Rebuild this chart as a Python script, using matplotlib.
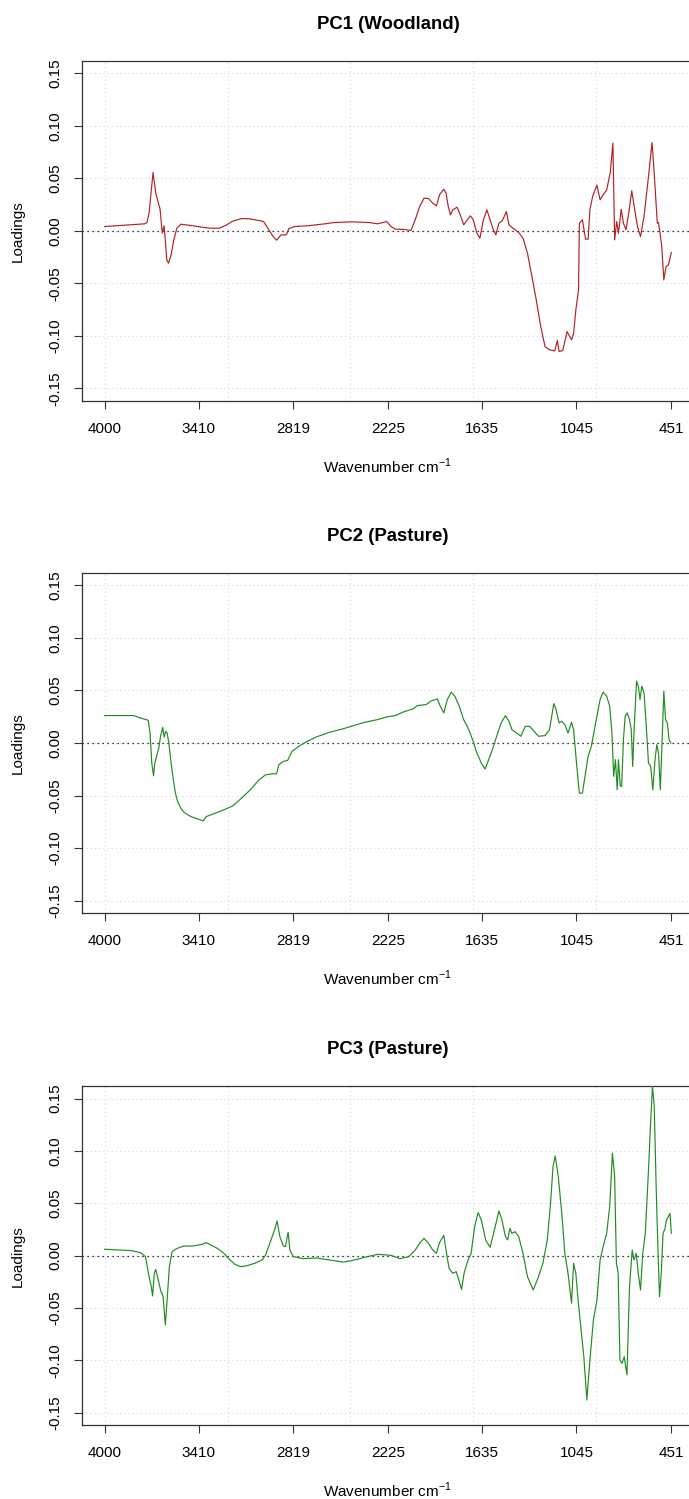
import numpy as np
import matplotlib
matplotlib.use("Agg")
import matplotlib.pyplot as plt

plt.rcParams['font.family'] = ['Liberation Sans', 'DejaVu Sans']
plt.rcParams['mathtext.fontset'] = 'custom'
plt.rcParams['mathtext.rm'] = 'Liberation Sans'

# axis labels used on the x axis (wavenumber, cm-1)
tick_wn = [4000, 3410, 2819, 2225, 1635, 1045, 451]
y_ticks = [-0.15, -0.10, -0.05, 0.00, 0.05, 0.10, 0.15]
titles = ["PC1 (Woodland)", "PC2 (Pasture)", "PC3 (Pasture)"]
colors = ["#B22222", "#228B22", "#228B22"]

# PC1 loadings
pc1_wn = [4000, 3749, 3735, 3722, 3697, 3680, 3653, 3639, 3628, 3622,
          3611, 3600, 3584, 3567, 3548, 3523, 3474, 3391, 3336, 3281,
          3240, 3198, 3143, 3088, 3005, 2972, 2945, 2923, 2895, 2862,
          2846, 2812, 2730, 2620, 2564, 2454, 2344, 2289, 2234, 2206,
          2179, 2124, 2082, 2055, 2027, 2000, 1972, 1945, 1922, 1903,
          1876, 1862, 1848, 1834, 1820, 1793, 1773, 1751, 1729, 1710,
          1691, 1669, 1650, 1628, 1606, 1586, 1567, 1550, 1531, 1509,
          1484, 1468, 1435, 1407, 1380, 1352, 1324, 1297, 1269, 1242,
          1214, 1181, 1165, 1154, 1131, 1104, 1076, 1063, 1049, 1032,
          1027, 1008, 988, 972, 961, 944, 917, 897, 878, 856,
          834, 817, 806, 793, 782, 765, 751, 735, 718, 699,
          677, 663, 644, 622, 594, 572, 558, 539, 531, 511,
          498, 484, 469, 451]
pc1_val = [0.0041, 0.0067, 0.0079, 0.0168, 0.0556, 0.0359, 0.0206, -0.0022, 0.0048, -0.0054,
           -0.0276, -0.0308, -0.0229, -0.0086, 0.0025, 0.0063, 0.0054, 0.0035, 0.0025, 0.0025,
           0.0054, 0.0092, 0.0117, 0.0114, 0.0089, 0.0010, -0.0054, -0.0089, -0.0038, -0.0038,
           0.0022, 0.0041, 0.0048, 0.0067, 0.0079, 0.0086, 0.0079, 0.0067, 0.0089, 0.0041,
           0.0016, 0.0013, 0.0003, 0.0105, 0.0232, 0.0311, 0.0308, 0.0263, 0.0238, 0.0343,
           0.0397, 0.0359, 0.0232, 0.0152, 0.0200, 0.0225, 0.0152, 0.0057, 0.0105, 0.0143,
           0.0105, -0.0022, -0.0070, 0.0105, 0.0200, 0.0105, 0.0016, -0.0038, 0.0073, 0.0098,
           0.0184, 0.0057, 0.0016, -0.0016, -0.0070, -0.0213, -0.0435, -0.0657, -0.0911, -0.1102,
           -0.1133, -0.1143, -0.1044, -0.1149, -0.1140, -0.0959, -0.1038, -0.0975, -0.0752, -0.0562,
           0.0073, 0.0105, -0.0079, -0.0079, 0.0200, 0.0327, 0.0435, 0.0295, 0.0343, 0.0390,
           0.0549, 0.0835, -0.0086, 0.0089, -0.0022, 0.0206, 0.0073, 0.0010, 0.0168, 0.0381,
           0.0168, 0.0041, -0.0054, 0.0137, 0.0517, 0.0841, 0.0549, 0.0073, 0.0079, -0.0149,
           -0.0467, -0.0340, -0.0324, -0.0206]

# PC2 loadings
pc2_wn = [4000, 3818, 3777, 3727, 3716, 3705, 3694, 3686, 3672, 3661,
          3650, 3636, 3628, 3617, 3609, 3598, 3584, 3570, 3557, 3543,
          3523, 3501, 3460, 3419, 3383, 3364, 3308, 3253, 3198, 3143,
          3088, 3033, 2992, 2950, 2923, 2909, 2881, 2854, 2826, 2785,
          2730, 2675, 2592, 2509, 2454, 2372, 2289, 2234, 2179, 2123,
          2068, 2041, 1986, 1958, 1917, 1898, 1876, 1854, 1829, 1807,
          1779, 1752, 1724, 1696, 1669, 1641, 1617, 1595, 1572, 1545,
          1517, 1490, 1468, 1449, 1421, 1393, 1366, 1338, 1311, 1283,
          1242, 1214, 1187, 1173, 1154, 1137, 1118, 1098, 1076, 1063,
          1054, 1043, 1027, 1008, 988, 972, 952, 925, 897, 878,
          856, 837, 823, 812, 801, 790, 782, 771, 762, 751,
          740, 727, 713, 702, 693, 685, 669, 658, 647, 636,
          622, 608, 594, 580, 567, 553, 542, 531, 520, 509,
          498, 487, 476, 465, 454]
pc2_val = [0.0261, 0.0261, 0.0239, 0.0216, 0.0095, -0.0191, -0.0312, -0.0191, -0.0111, -0.0048,
           0.0064, 0.0150, 0.0057, 0.0111, 0.0095, 0.0000, -0.0191, -0.0350, -0.0477, -0.0557,
           -0.0621, -0.0662, -0.0700, -0.0722, -0.0741, -0.0700, -0.0668, -0.0636, -0.0598, -0.0525,
           -0.0445, -0.0350, -0.0302, -0.0293, -0.0293, -0.0207, -0.0175, -0.0165, -0.0080, -0.0032,
           0.0016, 0.0057, 0.0102, 0.0134, 0.0159, 0.0197, 0.0223, 0.0248, 0.0261, 0.0299,
           0.0324, 0.0356, 0.0366, 0.0398, 0.0420, 0.0350, 0.0286, 0.0414, 0.0484, 0.0445,
           0.0350, 0.0223, 0.0143, 0.0032, -0.0095, -0.0191, -0.0248, -0.0159, -0.0064, 0.0064,
           0.0191, 0.0261, 0.0207, 0.0127, 0.0095, 0.0064, 0.0159, 0.0159, 0.0111, 0.0064,
           0.0070, 0.0127, 0.0375, 0.0318, 0.0191, 0.0207, 0.0175, 0.0095, 0.0197, 0.0127,
           -0.0032, -0.0223, -0.0477, -0.0477, -0.0286, -0.0127, -0.0032, 0.0191, 0.0414, 0.0484,
           0.0445, 0.0350, 0.0095, -0.0318, -0.0159, -0.0445, -0.0159, -0.0407, -0.0414, 0.0032,
           0.0255, 0.0286, 0.0223, 0.0127, -0.0223, 0.0095, 0.0589, 0.0541, 0.0414, 0.0541,
           0.0477, 0.0159, -0.0191, -0.0223, -0.0445, -0.0159, -0.0016, -0.0095, -0.0445, 0.0000,
           0.0493, 0.0223, 0.0191, 0.0032, 0.0000]

# PC3 loadings
pc3_wn = [4000, 3915, 3832, 3777, 3744, 3722, 3708, 3700, 3689, 3680,
          3667, 3650, 3634, 3620, 3606, 3595, 3578, 3556, 3529, 3501,
          3446, 3391, 3364, 3336, 3295, 3253, 3226, 3184, 3149, 3116,
          3060, 3014, 2992, 2964, 2936, 2920, 2903, 2881, 2868, 2851,
          2840, 2818, 2757, 2675, 2592, 2509, 2454, 2372, 2289, 2206,
          2151, 2096, 2055, 2027, 2000, 1972, 1945, 1922, 1903, 1876,
          1859, 1843, 1820, 1798, 1782, 1765, 1749, 1724, 1705, 1683,
          1661, 1641, 1614, 1586, 1559, 1531, 1512, 1490, 1476, 1462,
          1449, 1429, 1407, 1380, 1352, 1316, 1283, 1255, 1228, 1209,
          1192, 1178, 1159, 1137, 1118, 1098, 1076, 1063, 1049, 1035,
          1016, 999, 980, 961, 939, 917, 897, 878, 856, 837,
          820, 806, 795, 784, 773, 760, 746, 729, 713, 696,
          685, 671, 658, 644, 630, 614, 594, 580, 569, 558,
          545, 534, 525, 514, 503, 492, 481, 470, 459, 451]
pc3_val = [0.0061, 0.0054, 0.0048, 0.0029, -0.0010, -0.0201, -0.0296, -0.0385, -0.0169, -0.0131,
           -0.0217, -0.0328, -0.0392, -0.0662, -0.0360, -0.0105, 0.0038, 0.0061, 0.0080, 0.0092,
           0.0092, 0.0108, 0.0124, 0.0102, 0.0070, 0.0022, -0.0025, -0.0083, -0.0105, -0.0099,
           -0.0073, -0.0041, 0.0006, 0.0124, 0.0245, 0.0331, 0.0182, 0.0092, 0.0086, 0.0223,
           0.0054, -0.0010, -0.0029, -0.0022, -0.0041, -0.0061, -0.0048, -0.0016, 0.0013, 0.0003,
           -0.0029, -0.0010, 0.0054, 0.0118, 0.0166, 0.0118, 0.0054, 0.0022, 0.0124, 0.0194,
           0.0022, -0.0121, -0.0169, -0.0153, -0.0232, -0.0322, -0.0169, -0.0041, 0.0022, 0.0277,
           0.0411, 0.0341, 0.0150, 0.0080, 0.0245, 0.0427, 0.0341, 0.0182, 0.0150, 0.0261,
           0.0213, 0.0229, 0.0182, 0.0022, -0.0201, -0.0328, -0.0201, -0.0073, 0.0150, 0.0468,
           0.0850, 0.0952, 0.0755, 0.0404, 0.0022, -0.0169, -0.0455, -0.0073, -0.0169, -0.0424,
           -0.0710, -0.0965, -0.1379, -0.0997, -0.0615, -0.0424, -0.0041, 0.0086, 0.0213, 0.0468,
           0.0978, 0.0755, -0.0073, -0.0169, -0.0997, -0.1029, -0.0965, -0.1140, -0.0296, 0.0054,
           -0.0041, 0.0022, -0.0169, -0.0328, 0.0022, 0.0213, 0.0818, 0.1296, 0.1615, 0.1424,
           0.0596, 0.0022, -0.0392, -0.0169, 0.0213, 0.0252, 0.0341, 0.0373, 0.0404, 0.0213]

wavenumbers = [pc1_wn, pc2_wn, pc3_wn]
loadings = [pc1_val, pc2_val, pc3_val]

W, H = 689, 1499
fig = plt.figure(figsize=(W / 100, H / 100), dpi=100)

# panel boxes in pixels: (top, bottom); box runs past the right edge
boxes = [(60.7, 401.0), (572.7, 913.3), (1086.0, 1425.3)]
left_px, right_px = 82, 694
# grid lines every 500 points of the spectrum, as in the original
grid_x = [4000 - k * 769.6 for k in range(5)]

dotted = (0, (1, 3))

for i in range(3):
    top, bot = boxes[i]
    ax = fig.add_axes([left_px / W, 1 - bot / H, (right_px - left_px) / W, (bot - top) / H])
    ax.set_xlim(4142, 309)
    ax.set_ylim(-0.162, 0.162)

    for gx in grid_x:
        ax.axvline(gx, color='lightgray', lw=0.75, ls=dotted, zorder=1)
    for gy in y_ticks:
        ax.axhline(gy, color='lightgray', lw=0.75, ls=dotted, zorder=1)
    ax.axhline(0, color='black', lw=0.9, ls=dotted, zorder=2)

    ax.plot(wavenumbers[i], loadings[i], color=colors[i], lw=0.85, zorder=3)

    ax.set_xticks(tick_wn)
    ax.set_xticklabels([str(t) for t in tick_wn])
    ax.set_yticks(y_ticks)
    ax.set_yticklabels(["%.2f" % t for t in y_ticks], rotation=90, va='center')
    ax.tick_params(axis='both', labelsize=11, length=6, width=0.8, color='#333333')
    ax.tick_params(axis='x', pad=9)
    ax.tick_params(axis='y', pad=8)
    for s in ax.spines.values():
        s.set_color('#333333')
        s.set_linewidth(0.9)

    ax.set_xlabel("Wavenumber cm$^{-1}$", fontsize=11)
    ax.xaxis.set_label_coords(0.5, -65 / (bot - top))
    ax.xaxis.label.set_va('center')
    ax.set_ylabel("Loadings", fontsize=11)
    ax.yaxis.set_label_coords((18 - left_px) / (right_px - left_px), 0.5)
    ax.yaxis.label.set_va('center')

    fig.text((left_px + right_px) / 2 / W, 1 - (top - 36.5) / H, titles[i],
             ha='center', va='center', fontsize=13.4, fontweight='bold')

fig.savefig("out.png", dpi=100)
